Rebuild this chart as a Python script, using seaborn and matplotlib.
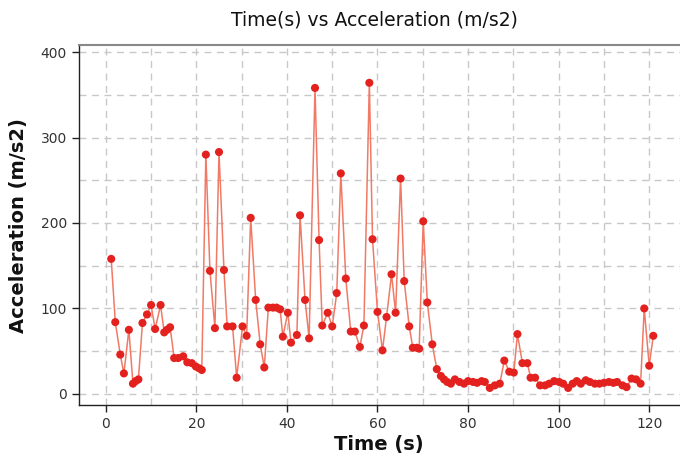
import matplotlib
matplotlib.use("Agg")
import matplotlib.pyplot as plt
import seaborn as sns
import pandas as pd
from matplotlib.ticker import MultipleLocator

time_s = [1.2, 2.1, 3.2, 4.0, 5.1, 6.0, 6.6, 7.2, 8.1, 9.1, 10.0, 10.9, 12.1, 12.9, 13.5,
          14.2, 15.1, 16.0, 17.1, 18.0, 19.0, 19.9, 20.6, 21.2, 22.1, 23.0, 24.1, 25.0,
          26.1, 26.8, 28.0, 28.9, 30.2, 31.1, 32.0, 33.1, 34.1, 35.0, 35.9, 36.9, 37.7,
          38.5, 39.1, 40.2, 40.9, 42.2, 42.9, 44.0, 44.9, 46.2, 47.1, 47.8, 49.0, 50.0,
          51.0, 51.9, 53.0, 54.1, 55.0, 56.1, 57.0, 58.2, 58.9, 60.0, 61.1, 62.0, 63.1,
          64.0, 65.1, 65.9, 67.0, 67.8, 68.7, 69.2, 70.1, 71.0, 72.1, 73.1, 74.0, 74.7,
          75.4, 76.2, 77.1, 78.1, 79.1, 80.0, 81.1, 82.0, 83.0, 83.7, 84.8, 85.9, 87.0,
          88.0, 89.1, 90.1, 90.9, 92.0, 93.1, 93.8, 94.8, 95.9, 97.0, 97.9, 99.0, 100.1,
          101.0, 102.1, 103.1, 104.0, 104.9, 106.0, 106.9, 108.0, 109.0, 110.0, 111.1,
          112.1, 112.9, 114.1, 115.0, 116.1, 117.1, 118.1, 118.9, 120.0, 120.9]

accel = [158, 84, 46, 24, 75, 12, 15, 17, 83, 93, 104, 76, 104, 72, 75,
         78, 42, 42, 44, 37, 36, 32, 30, 28, 280, 144, 77, 283,
         145, 79, 79, 19, 79, 68, 206, 110, 58, 31, 101, 101, 101,
         99, 67, 95, 60, 69, 209, 110, 65, 358, 180, 80, 95, 79,
         118, 258, 135, 73, 73, 55, 80, 364, 181, 96, 51, 90, 140,
         95, 252, 132, 79, 54, 54, 53, 202, 107, 58, 29, 21, 17,
         14, 12, 17, 14, 12, 15, 14, 13, 15, 14, 7, 10, 12,
         39, 26, 25, 70, 36, 36, 19, 19, 10, 10, 12, 15, 14,
         12, 7, 12, 15, 12, 16, 14, 12, 12, 13, 14,
         13, 14, 10, 8, 18, 17, 12, 100, 33, 68]

df = pd.DataFrame({"Time (s)": time_s, "Acceleration (m/s2)": accel})

sns.set_style("white")
plt.rcParams["font.family"] = ["DejaVu Sans"]

fig = plt.figure(figsize=(6.8, 4.66), dpi=100)
ax = fig.add_axes([0.1156, 0.131, 0.8844, 0.772])

sns.lineplot(data=df, x="Time (s)", y="Acceleration (m/s2)", ax=ax,
             color="#f07a66", linewidth=1.1, zorder=2, estimator=None, sort=False)
sns.scatterplot(data=df, x="Time (s)", y="Acceleration (m/s2)", ax=ax,
                color="#e3221f", s=34, edgecolor="none", zorder=3)

ax.set_xlim(-6.0, 126.8)
ax.set_ylim(-12.9, 408)
ax.xaxis.set_major_locator(MultipleLocator(20))
ax.xaxis.set_minor_locator(MultipleLocator(10))
ax.yaxis.set_major_locator(MultipleLocator(100))
ax.yaxis.set_minor_locator(MultipleLocator(50))

ax.grid(which="both", color="#c8c8c8", linestyle=(0, (5, 4)), linewidth=1.0, zorder=0)
ax.set_axisbelow(True)

for side in ["left", "bottom"]:
    ax.spines[side].set_color("#222222")
    ax.spines[side].set_linewidth(1.0)
ax.spines["right"].set_visible(False)
ax.spines["top"].set_color("#888888")
ax.spines["top"].set_linewidth(1.5)

ax.tick_params(which="major", direction="out", length=5, width=1, color="#222222",
               labelsize=10, labelcolor="#333333", left=True, bottom=True)
ax.tick_params(which="minor", length=0)

ax.set_xlabel("Time (s)", fontsize=14, fontweight="bold", color="#111111", labelpad=3)
ax.set_ylabel("Acceleration (m/s2)", fontsize=14, fontweight="bold", color="#111111", labelpad=9)
fig.suptitle("Time(s) vs Acceleration (m/s2)", x=0.551, y=0.978, fontsize=13.5, color="#111111")

fig.savefig("out.png", dpi=100)
